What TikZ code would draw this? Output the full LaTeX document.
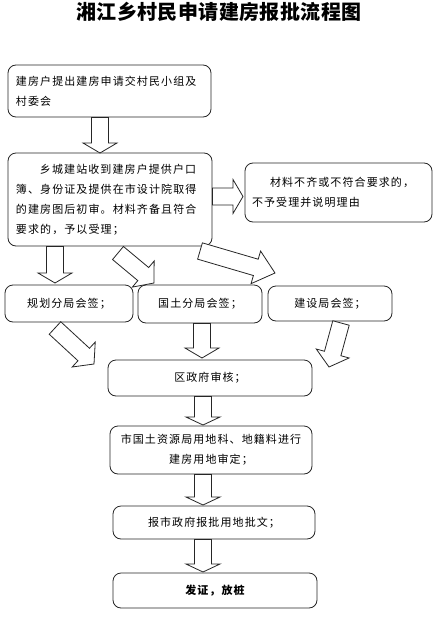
\documentclass[tikz,border=0pt]{standalone}
\usepackage{fontspec}
\setmainfont{Noto Sans CJK SC}
\newfontfamily\btfam[LetterSpace=10]{Noto Sans CJK SC}
\newfontfamily\ttlfam[LetterSpace=2]{Noto Sans CJK SC}
\newcommand\bodyfnt{\btfam\fontsize{11pt}{20pt}\selectfont}
\newcommand\titlefnt{\ttlfam\fontsize{20pt}{24pt}\selectfont\bfseries}
\usetikzlibrary{calc}
\tikzset{
  box/.style={draw=black!85, line width=0.8pt, rounded corners=8pt, fill=white, inner sep=0pt, font=\bodyfnt},
  barr/.style={draw=black!85, line width=0.8pt, fill=white, line join=miter},
}
\newcommand\barrow[3]{%
  \coordinate (hb) at ($(#2)!#3!(#1)$);
  \draw[barr] ($(#1)!8.5pt!90:(#2)$) -- ($(hb)!8.5pt!90:(#2)$) -- ($(hb)!17pt!90:(#2)$) -- (#2)
     -- ($(hb)!17pt!-90:(#2)$) -- ($(hb)!8.5pt!-90:(#2)$) -- ($(#1)!8.5pt!-90:(#2)$) -- cycle;}
\begin{document}
\begin{tikzpicture}[x=1pt,y=-1pt]
\useasboundingbox[fill=white] (0,0) rectangle (441,621);
\node[font=\titlefnt] (title) at (219,12) {湘江乡村民申请建房报批流程图};

\node[box, minimum width=203pt, minimum height=52pt, text width=187pt, align=left] (b1) at (109.5,91)
  {建房户提出建房申请交村民小组及\\村委会};
\node[box, minimum width=204pt, minimum height=93pt, text width=188pt, align=left] (b2) at (110,199.5)
  {\hspace*{24pt}乡城建站收到建房户提供户口\\簿、身份证及提供在市设计院取得\\的建房图后初审。材料齐备且符合\\要求的，予以受理；};
\node[box, minimum width=187pt, minimum height=59pt, text width=173pt, align=left] (b3) at (338.5,192.5)
  {\hspace*{18pt}材料不齐或不符合要求的，\\不予受理并说明理由};
\node[box, minimum width=128pt, minimum height=37pt] (b4) at (69,303.5) {规划分局会签；};
\node[box, minimum width=124pt, minimum height=38pt] (b5) at (200,304) {国土分局会签；};
\node[box, minimum width=124pt, minimum height=35pt] (b6) at (330,303.5) {建设局会签；};
\node[box, minimum width=204pt, minimum height=36pt] (b7) at (210,378) {区政府审核；};
\node[box, minimum width=202pt, minimum height=48pt, align=center] (b8) at (211,450)
  {市国土资源局用地科、地籍料进行\\建房用地审定；};
\node[box, minimum width=202pt, minimum height=33pt] (b9) at (214,522.5) {报市政府报批用地批文；};
\node[box, minimum width=204pt, minimum height=35pt] (b10) at (215,590.5) {\bfseries 发证，放桩};

% arrow end points
\coordinate (a1s) at (b1.south -| 100,0);  \coordinate (a1e) at (100,153);
\coordinate (a2s) at (b2.east |- 0,196.5); \coordinate (a2e) at (243,196.5);
\coordinate (a3s) at (b2.south -| 55,0);   \coordinate (a3e) at (55,283);
\coordinate (a4s) at (118,253);            \coordinate (a4e) at (154,283);
\coordinate (a5s) at (200,251);            \coordinate (a5e) at (275,273);
\coordinate (a6s) at (55,328);             \coordinate (a6e) at (94,364);
\coordinate (a7s) at (b5.south -| 202,0);  \coordinate (a7e) at (202,358);
\coordinate (a8s) at (341,323);            \coordinate (a8e) at (329,367);
\coordinate (a9s) at (b7.south -| 203,0);  \coordinate (a9e) at (203,425);
\coordinate (a10s) at (b8.south -| 203,0); \coordinate (a10e) at (203,505);
\coordinate (a11s) at (b9.south -| 203,0); \coordinate (a11e) at (203,572);

\barrow{a1s}{a1e}{10pt}
\barrow{a2s}{a2e}{10pt}
\barrow{a3s}{a3e}{10pt}
\barrow{a4s}{a4e}{14pt}
\barrow{a5s}{a5e}{20pt}
\barrow{a6s}{a6e}{14pt}
\barrow{a7s}{a7e}{10pt}
\barrow{a8s}{a8e}{14pt}
\barrow{a9s}{a9e}{8pt}
\barrow{a10s}{a10e}{8pt}
\barrow{a11s}{a11e}{8pt}
\end{tikzpicture}
\end{document}
